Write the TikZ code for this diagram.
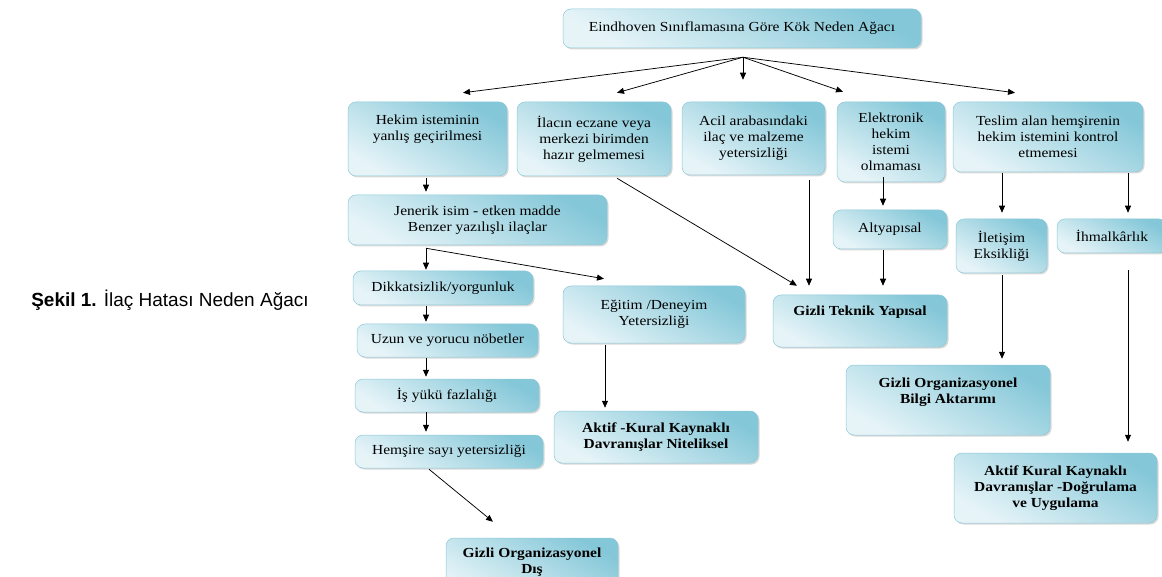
\documentclass[tikz,border=0pt]{standalone}
\usepackage{fontspec}
\setmainfont{Liberation Serif}[FakeStretch=1.12]
\newfontfamily\capfont{Liberation Sans}
\usetikzlibrary{positioning, arrows.meta, shadows, calc}

\definecolor{boxdark}{RGB}{132,199,216}
\definecolor{boxlight}{RGB}{230,244,248}
\definecolor{boxedge}{RGB}{140,200,216}

\begin{document}
\begin{tikzpicture}[
  x=1pt, y=-1pt,
  box/.style={rectangle, draw=boxedge, line width=0.5pt, rounded corners=8pt,
              top color=boxdark, bottom color=boxlight, shading angle=-30,
              drop shadow={shadow xshift=1.5pt, shadow yshift=-1.5pt, opacity=0.3},
              font=\fontsize{13.8}{16}\selectfont, align=center, inner sep=2pt},
  res/.style={box, font=\fontsize{13.8}{16}\selectfont\bfseries},
  lbl/.style={font=\fontsize{13.8}{16}\selectfont\bfseries, align=center, inner sep=0pt},
  arr/.style={-{Triangle[length=7pt, width=6pt]}, line width=0.75pt}
]
  \useasboundingbox (0,0) rectangle (1162,577);

  % caption
  \node[font=\capfont\fontsize{19}{22}\selectfont] (caption) at (170,300)
    {\textbf{Şekil 1.} İlaç Hatası Neden Ağacı};

  % top row
  \node[box, minimum width=358pt, minimum height=39pt] (root) at (742,28.5)
    {Eindhoven Sınıflamasına Göre Kök Neden Ağacı};
  \node[box, minimum width=159pt, minimum height=74pt,
        label={[lbl, font=\fontsize{13.8}{16}\selectfont, below=13pt]north:{Hekim isteminin\\yanlış geçirilmesi}}]
    (hekim) at (427.5,139) {};
  \node[box, minimum width=154pt, minimum height=74pt] (ilacin) at (594,139)
    {İlacın eczane veya\\merkezi birimden\\hazır gelmemesi};
  \node[box, minimum width=143pt, minimum height=73pt] (acil) at (753.5,138.5)
    {Acil arabasındaki\\ilaç ve malzeme\\yetersizliği};
  \node[box, minimum width=108pt, minimum height=80pt] (elektronik) at (891,142)
    {Elektronik\\hekim\\istemi\\olmaması};
  \node[box, minimum width=190pt, minimum height=70pt] (teslim) at (1048,137)
    {Teslim alan hemşirenin\\hekim istemini kontrol\\etmemesi};

  % left branch
  \node[box, minimum width=259pt, minimum height=50pt] (jenerik) at (477.5,220)
    {Jenerik isim - etken madde\\Benzer yazılışlı ilaçlar};
  \node[box, minimum width=180pt, minimum height=34pt] (dikkat) at (443,288)
    {Dikkatsizlik/yorgunluk};
  \node[box, minimum width=181pt, minimum height=33pt] (uzun) at (447.5,340.5)
    {Uzun ve yorucu nöbetler};
  \node[box, minimum width=184pt, minimum height=33pt] (isyuku) at (447,395.5)
    {İş yükü fazlalığı};
  \node[box, minimum width=188pt, minimum height=33pt] (hemsire) at (449,451.5)
    {Hemşire sayı yetersizliği};
  \node[box, minimum width=182pt, minimum height=57pt] (egitim) at (654,314.5)
    {Eğitim /Deneyim\\Yetersizliği};
  \node[res, minimum width=204pt, minimum height=52pt] (aktif1) at (656,437)
    {Aktif -Kural Kaynaklı\\Davranışlar Niteliksel};
  \node[box, minimum width=172pt, minimum height=60pt,
        label={[lbl, below=10pt]north:{Gizli Organizasyonel\\Dış}}]
    (gizlidis) at (532,568) {};

  % right branch
  \node[box, minimum width=114pt, minimum height=39pt] (altyapi) at (890,229.5)
    {Altyapısal};
  \node[box, minimum width=174pt, minimum height=52pt,
        label={[lbl, below=11pt]north:{Gizli Teknik Yapısal}}]
    (teknik) at (860,321) {};
  \node[box, minimum width=91pt, minimum height=54pt] (iletisim) at (1001.5,246)
    {İletişim\\Eksikliği};
  \node[box, minimum width=110pt, minimum height=34pt] (ihmal) at (1112,236)
    {İhmalkârlık};
  \node[box, minimum width=204pt, minimum height=70pt,
        label={[lbl, below=13pt]north:{Gizli Organizasyonel\\Bilgi Aktarımı}}]
    (bilgi) at (948,400) {};
  \node[res, minimum width=203pt, minimum height=70pt] (aktif2) at (1055.5,488)
    {Aktif Kural Kaynaklı\\Davranışlar -Doğrulama\\ve Uygulama};

  \coordinate (fork) at ($(root.south)+(1,9)$);
  \coordinate (jsplit) at ($(jenerik.south)+(-51.5,3)$);

  \draw[arr] (fork) -- ($(hekim.north)+(35.5,-9)$);
  \draw[arr] (fork) -- ($(ilacin.north)+(23,-9)$);
  \draw[arr] (fork) -- ($(acil.north)+(-10.5,-22)$);
  \draw[arr] (fork) -- ($(elektronik.north)+(-48,-10)$);
  \draw[arr] (fork) -- ($(teslim.north)+(-33,-9)$);

  \draw[arr] ($(hekim.south)+(-1.5,2)$) -- ($(jenerik.north)+(-51.5,-3)$);
  \draw[arr] (jsplit) -- ($(dikkat.north)+(-17,-1)$);
  \draw[arr] (jsplit) -- ($(egitim.north)+(-50,-7)$);
  \draw[arr] ($(dikkat.south)+(-17,1)$) -- ($(uzun.north)+(-21.5,-2)$);
  \draw[arr] ($(uzun.south)+(-21.5,1)$) -- ($(isyuku.north)+(-21,-2)$);
  \draw[arr] ($(isyuku.south)+(-21,0)$) -- ($(hemsire.north)+(-23,-3)$);
  \draw[arr] ($(hemsire.south)+(-20,1)$) -- ($(gizlidis.north)+(-39,-16)$);
  \draw[arr] ($(egitim.south)+(-49,2)$) -- ($(aktif1.north)+(-51,-3)$);

  \draw[arr] ($(ilacin.south)+(23,2)$) -- ($(teknik.north)+(-63,-9)$);
  \draw[arr] ($(acil.south)+(55.5,5)$) -- ($(teknik.north)+(-51,-9)$);
  \draw[arr] ($(elektronik.south)+(-8,-5)$) -- ($(altyapi.north)+(-7,-4)$);
  \draw[arr] ($(altyapi.south)+(-7,1)$) -- ($(teknik.north)+(23,-9)$);
  \draw[arr] ($(teslim.south)+(-46,1)$) -- ($(iletisim.north)+(0.5,-6)$);
  \draw[arr] ($(teslim.south)+(80,1)$) -- ($(ihmal.north)+(16,-6)$);
  \draw[arr] ($(iletisim.south)+(0.5,2)$) -- ($(bilgi.north)+(54,-6)$);
  \draw[arr] ($(ihmal.south)+(16,17)$) -- ($(aktif2.north)+(72.5,-11)$);
\end{tikzpicture}
\end{document}
